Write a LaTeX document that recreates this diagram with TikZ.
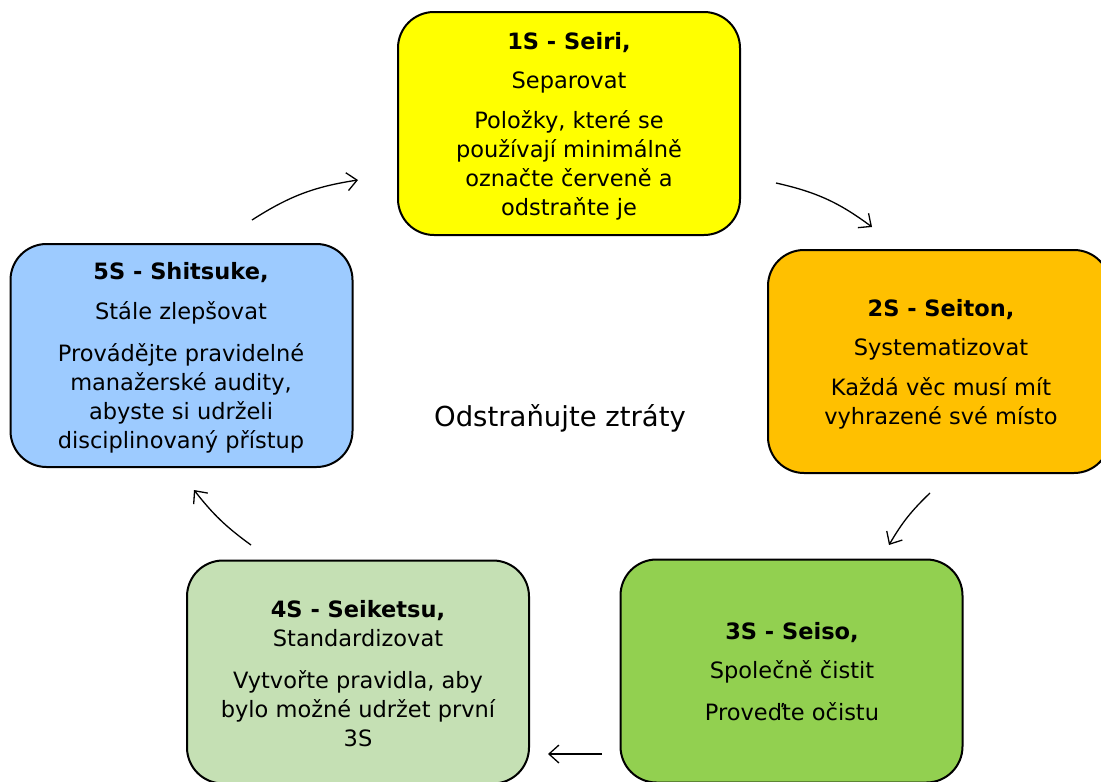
\documentclass[tikz,border=0pt]{standalone}
\usepackage{fontspec}
\setmainfont{DejaVu Sans}
\usetikzlibrary{arrows.meta}
\definecolor{c1}{HTML}{FFFF00}
\definecolor{c2}{HTML}{FFC000}
\definecolor{c3}{HTML}{92D050}
\definecolor{c4}{HTML}{C5E0B4}
\definecolor{c5}{HTML}{9DCBFF}
\tikzset{
  sbox/.style={draw=black, line width=2pt, rounded corners=36pt, minimum width=342pt, minimum height=223pt, inner sep=0pt},
  stxt/.style={align=center, font=\fontsize{22.5}{29}\selectfont, inner sep=0pt, anchor=north},
  arr/.style={-{Straight Barb[length=10pt,width=18pt]}, line width=1.3pt}
}
\begin{document}
\begin{tikzpicture}[x=1pt,y=-1pt]
\useasboundingbox (0,0) rectangle (1101,782);
\clip (0,0) rectangle (1101,782);
\node[sbox, fill=c1] (b1) at (569,123.5) {};
\node[sbox, fill=c2] (b2) at (939,361.5) {};
\node[sbox, fill=c3] (b3) at (791.5,671) {};
\node[sbox, fill=c4] (b4) at (358,672) {};
\node[sbox, fill=c5] (b5) at (181.5,355.5) {};

\node[stxt] (t1) at (569,32) {\textbf{1S - Seiri,}\\[10pt] Separovat\\[11pt] Položky, které se\\ používají minimálně\\ označte červeně a\\ odstraňte je};
\node[stxt] (t2) at (941,299) {\textbf{2S - Seiton,}\\[10pt] Systematizovat\\[11pt] Každá věc musí mít\\ vyhrazené své místo};
\node[stxt] (t3) at (792,622) {\textbf{3S - Seiso,}\\[10pt] Společně čistit\\[13pt] Proveďte očistu};
\node[stxt] (t4) at (358,600) {\textbf{4S - Seiketsu,}\\ Standardizovat\\[13pt] Vytvořte pravidla, aby\\ bylo možné udržet první\\ 3S};
\node[stxt] (t5) at (181,262) {\textbf{5S - Shitsuke,}\\[11pt] Stále zlepšovat\\[13pt] Provádějte pravidelné\\ manažerské audity,\\ abyste si udrželi\\ disciplinovaný přístup};
\node[font=\fontsize{27.5}{32}\selectfont] (c) at (560,418) {Odstraňujte ztráty};

\coordinate (a1s) at (252,220); \coordinate (a1e) at (358,180);
\coordinate (a2s) at (776,183); \coordinate (a2e) at (872,227);
\coordinate (a3s) at (930,493); \coordinate (a3e) at (889,545);
\coordinate (a4s) at (602,754); \coordinate (a4e) at (548,754);
\coordinate (a5s) at (251,545); \coordinate (a5e) at (194,490);
\draw[arr] (a1s) to[bend left=12] (a1e);
\draw[arr] (a2s) to[bend left=12] (a2e);
\draw[arr] (a3s) to[bend right=8] (a3e);
\draw[arr] (a4s) -- (a4e);
\draw[arr] (a5s) to[bend left=8] (a5e);
\end{tikzpicture}
\end{document}
